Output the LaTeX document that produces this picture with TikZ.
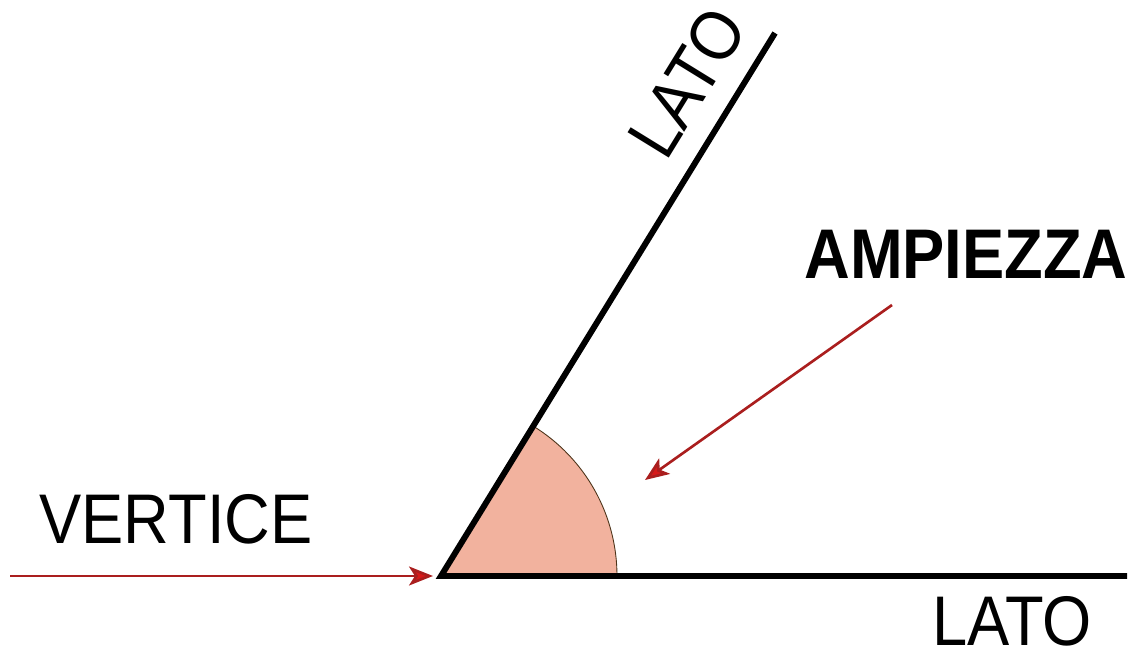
\documentclass[tikz,border=0pt]{standalone}
\usepackage{fontspec}
\setmainfont{Liberation Sans}[FakeStretch=0.9]
\usepackage{tikz}
\usetikzlibrary{positioning,arrows.meta,calc}
\definecolor{arrred}{RGB}{170,30,30}
\definecolor{tipred}{RGB}{215,25,25}
\definecolor{sector}{RGB}{242,178,158}
\tikzset{
  x=0.02cm, y=0.02cm,
  side/.style={line width=3.4pt,black},
  redarr/.style={-{Stealth[length=4.8mm,width=3.8mm,inset=1.2mm,fill=tipred]},
    line width=1.5pt,arrred},
  wedge/.style={fill=sector,draw=black!60!brown,line width=0.5pt},
  lbl/.style={font=\fontsize{40}{40}\selectfont,inner sep=0pt},
  lblb/.style={lbl,font=\fontsize{40}{40}\selectfont\bfseries},
}
\begin{document}
\begin{tikzpicture}
  \useasboundingbox (0,0) rectangle (1138,657);
  \coordinate (V) at (441,81);
  \coordinate (E1) at (1127,81);
  \coordinate (E2) at (775,624);
  \coordinate (vs) at (10,81);
  \coordinate (as) at (892,352);
  \coordinate (ae) at (645,177);
  % sector
  \draw[wedge] (V) -- ++(0:176) arc[start angle=0,end angle=58.4,radius=176] -- cycle;
  % sides
  \draw[side] (E1) -- (V) -- (E2)
    node[lbl,pos=0.862,sloped,above=0.42cm] (lato2) {LATO};
  % labels
  \node[lbl,anchor=base] (vert) at (176,114) {VERTICE};
  \node[lblb,anchor=base] (amp) at (966,379) {AMPIEZZA};
  \node[lbl,anchor=base] (lato1) at (1012,12) {LATO};
  % arrows
  \draw[redarr] (vs) -- ($(V)+(-8,0)$);
  \draw[redarr] (as) -- (ae);
\end{tikzpicture}
\end{document}
